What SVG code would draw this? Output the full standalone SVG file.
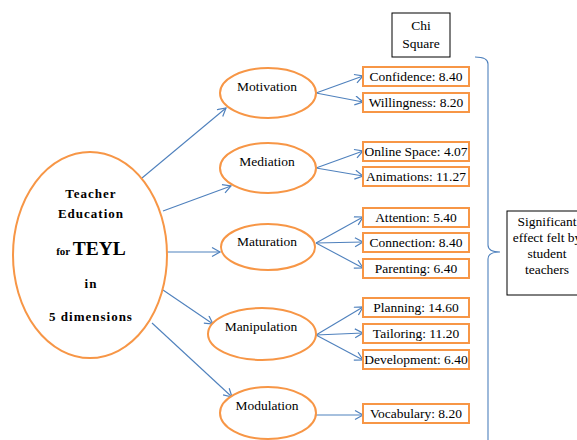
<svg xmlns="http://www.w3.org/2000/svg" width="577" height="440" viewBox="0 0 577 440">
<defs>
<style>
.node ellipse{fill:#fff;stroke:#F79646;stroke-width:2}
.box rect{fill:#fff;stroke:#F79646;stroke-width:2}
.frame rect{fill:#fff;stroke:#000;stroke-width:1}
text{font-family:"Liberation Serif","Times New Roman",serif;font-size:13.5px;fill:#000;text-anchor:middle}
.big{font-weight:bold;font-size:13px;letter-spacing:1px}
.conn line,.conn path{stroke:#4F81BD;stroke-width:1.1;fill:none}
</style>
<marker id="arr" markerUnits="userSpaceOnUse" markerWidth="12" markerHeight="12" refX="9" refY="5" orient="auto">
<path d="M1,0.5 L9,5 L1,9.5" fill="none" stroke="#4F81BD" stroke-width="1.2"/>
</marker>
</defs>
<rect width="577" height="440" fill="#fff"/>

<g id="connectors" class="conn">
<line x1="142" y1="178" x2="226" y2="108" marker-end="url(#arr)"/>
<line x1="163" y1="211" x2="231" y2="186" marker-end="url(#arr)"/>
<line x1="167" y1="252" x2="220" y2="252" marker-end="url(#arr)"/>
<line x1="163" y1="290" x2="213" y2="324" marker-end="url(#arr)"/>
<line x1="152" y1="323" x2="232" y2="397" marker-end="url(#arr)"/>
<line x1="316" y1="93" x2="363" y2="76" marker-end="url(#arr)"/>
<line x1="316" y1="93" x2="363" y2="102" marker-end="url(#arr)"/>
<line x1="316" y1="168" x2="363" y2="151" marker-end="url(#arr)"/>
<line x1="316" y1="168" x2="363" y2="176" marker-end="url(#arr)"/>
<line x1="316" y1="243" x2="363" y2="217" marker-end="url(#arr)"/>
<line x1="316" y1="243" x2="363" y2="242" marker-end="url(#arr)"/>
<line x1="316" y1="243" x2="363" y2="268" marker-end="url(#arr)"/>
<line x1="316" y1="335" x2="363" y2="307" marker-end="url(#arr)"/>
<line x1="316" y1="335" x2="363" y2="333" marker-end="url(#arr)"/>
<line x1="316" y1="335" x2="363" y2="360" marker-end="url(#arr)"/>
<line x1="316" y1="415" x2="363" y2="415" marker-end="url(#arr)"/>
<path d="M475,57 Q488,57 488,64 L488,245 Q488,252 500,252 Q488,252 488,259 L488,445"/>
</g>

<g id="center" class="node">
<ellipse cx="90" cy="255" rx="77" ry="103"/>
<text class="big" x="91" y="197.5">Teacher</text>
<text class="big" x="91" y="218">Education</text>
<text class="big" x="91" y="255" style="letter-spacing:0"><tspan font-size="11">for </tspan><tspan font-size="19.5">TEYL</tspan></text>
<text class="big" x="91" y="288">in</text>
<text class="big" x="91" y="321">5 dimensions</text>
</g>

<g id="motivation" class="node"><ellipse cx="268" cy="93" rx="48" ry="25"/><text x="267" y="91">Motivation</text></g>
<g id="mediation" class="node"><ellipse cx="268" cy="168" rx="48" ry="25"/><text x="267" y="165.5">Mediation</text></g>
<g id="maturation" class="node"><ellipse cx="268" cy="247" rx="47" ry="23"/><text x="267" y="246">Maturation</text></g>
<g id="manipulation" class="node"><ellipse cx="262" cy="334" rx="54" ry="26"/><text x="261" y="331">Manipulation</text></g>
<g id="modulation" class="node"><ellipse cx="268" cy="413" rx="48" ry="26"/><text x="267" y="410">Modulation</text></g>

<g id="confidence" class="box"><rect x="363" y="67" width="106" height="19"/><text x="416" y="81">Confidence: 8.40</text></g>
<g id="willingness" class="box"><rect x="363" y="93" width="106" height="19"/><text x="416" y="107">Willingness: 8.20</text></g>
<g id="online" class="box"><rect x="363" y="142" width="106" height="19"/><text x="416" y="156">Online Space: 4.07</text></g>
<g id="animations" class="box"><rect x="363" y="167" width="106" height="19"/><text x="416" y="181">Animations: 11.27</text></g>
<g id="attention" class="box"><rect x="363" y="208" width="106" height="19"/><text x="416" y="222">Attention: 5.40</text></g>
<g id="connection" class="box"><rect x="363" y="233" width="106" height="19"/><text x="416" y="247">Connection: 8.40</text></g>
<g id="parenting" class="box"><rect x="363" y="259" width="106" height="19"/><text x="416" y="273">Parenting: 6.40</text></g>
<g id="planning" class="box"><rect x="363" y="298" width="106" height="19"/><text x="416" y="312">Planning: 14.60</text></g>
<g id="tailoring" class="box"><rect x="363" y="324" width="106" height="19"/><text x="416" y="338">Tailoring: 11.20</text></g>
<g id="development" class="box"><rect x="363" y="350" width="106" height="19"/><text x="416" y="364">Development: 6.40</text></g>
<g id="vocabulary" class="box"><rect x="363" y="404" width="106" height="19"/><text x="416" y="418">Vocabulary: 8.20</text></g>

<g id="chisquare" class="frame"><rect x="392" y="13" width="58" height="44"/><text x="421" y="30">Chi</text><text x="421" y="48">Square</text></g>
<g id="significant" class="frame"><rect x="507" y="211" width="82" height="84"/>
<text x="547" y="226">Significant</text><text x="547" y="242">effect felt by</text><text x="547" y="258">student</text><text x="547" y="274">teachers</text></g>
</svg>
